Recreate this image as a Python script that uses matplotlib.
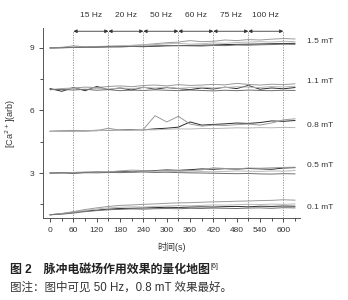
import matplotlib
matplotlib.use('Agg')
import matplotlib.pyplot as plt

plt.rcParams['font.family'] = ['Liberation Sans', 'Noto Sans CJK SC', 'DejaVu Sans']

# time axis (s), sampled every 30 s
t = [0, 30, 60, 90, 120, 150, 180, 210, 240, 270, 300,
     330, 360, 390, 420, 450, 480, 510, 540, 570, 600, 630]

mt_01 = [
    [1.00, 1.05, 1.12, 1.18, 1.22, 1.27, 1.30, 1.31, 1.33, 1.34, 1.36, 1.35, 1.37, 1.38, 1.37, 1.39, 1.40, 1.38, 1.41, 1.40, 1.42, 1.41],
    [1.00, 1.06, 1.15, 1.25, 1.33, 1.40, 1.45, 1.47, 1.50, 1.52, 1.55, 1.57, 1.58, 1.60, 1.62, 1.63, 1.65, 1.66, 1.68, 1.69, 1.72, 1.70],
    [1.00, 1.04, 1.10, 1.20, 1.28, 1.33, 1.36, 1.38, 1.37, 1.40, 1.42, 1.44, 1.43, 1.45, 1.47, 1.46, 1.48, 1.50, 1.49, 1.51, 1.50, 1.52],
    [1.00, 1.03, 1.08, 1.15, 1.20, 1.24, 1.26, 1.28, 1.27, 1.29, 1.30, 1.29, 1.31, 1.30, 1.32, 1.31, 1.30, 1.32, 1.33, 1.31, 1.34, 1.33],
]
mt_05 = [
    [3.00, 3.02, 2.99, 3.03, 3.05, 3.04, 3.08, 3.06, 3.10, 3.12, 3.15, 3.13, 3.16, 3.20, 3.18, 3.21, 3.19, 3.22, 3.20, 3.18, 3.24, 3.26],
    [3.00, 3.01, 3.03, 3.05, 3.04, 3.06, 3.10, 3.14, 3.12, 3.10, 3.13, 3.11, 3.12, 3.15, 3.25, 3.22, 3.20, 3.24, 3.23, 3.25, 3.27, 3.28],
    [3.00, 3.00, 3.02, 3.01, 3.03, 3.02, 3.04, 3.05, 3.07, 3.05, 3.06, 3.08, 3.05, 3.07, 3.06, 3.08, 3.10, 3.09, 3.08, 3.10, 3.09, 3.12],
    [3.00, 3.01, 3.00, 3.02, 3.01, 3.03, 3.02, 3.04, 3.05, 3.03, 3.04, 3.02, 3.01, 3.00, 2.99, 2.98, 2.97, 2.98, 2.96, 2.95, 2.97, 2.96],
]
mt_08 = [
    [5.00, 5.01, 5.03, 5.02, 5.05, 5.04, 5.06, 5.08, 5.07, 5.12, 5.15, 5.20, 5.45, 5.30, 5.33, 5.36, 5.40, 5.38, 5.42, 5.50, 5.48, 5.52],
    [5.00, 5.02, 5.01, 5.04, 5.03, 5.15, 5.05, 5.06, 5.10, 5.75, 5.45, 5.72, 5.35, 5.25, 5.30, 5.28, 5.32, 5.35, 5.30, 5.40, 5.55, 5.60],
    [5.00, 5.00, 5.02, 5.01, 5.03, 5.05, 5.04, 5.06, 5.08, 5.07, 5.10, 5.12, 5.11, 5.14, 5.13, 5.15, 5.17, 5.16, 5.18, 5.17, 5.19, 5.18],
]
mt_11 = [
    [7.05, 6.92, 7.10, 6.95, 7.15, 7.00, 7.08, 6.98, 7.12, 7.02, 7.10, 7.05, 7.00, 7.08, 7.03, 7.12, 7.05, 7.20, 7.02, 7.08, 7.04, 7.10],
    [7.00, 7.05, 7.08, 7.12, 7.10, 7.15, 7.18, 7.14, 7.20, 7.22, 7.18, 7.24, 7.20, 7.22, 7.25, 7.23, 7.30, 7.25, 7.22, 7.26, 7.24, 7.28],
    [7.00, 7.02, 7.05, 7.00, 7.06, 7.03, 7.08, 7.05, 7.10, 7.08, 7.12, 7.06, 7.10, 7.12, 7.08, 7.10, 7.14, 7.12, 7.10, 7.15, 7.13, 7.16],
    [7.00, 7.01, 6.98, 7.02, 6.97, 7.00, 6.95, 6.98, 6.96, 6.99, 6.97, 6.95, 6.98, 6.96, 6.94, 6.97, 6.95, 6.98, 6.96, 6.95, 6.97, 6.96],
]
mt_15 = [
    [9.00, 9.01, 9.02, 9.03, 9.04, 9.05, 9.06, 9.07, 9.06, 9.08, 9.10, 9.11, 9.12, 9.13, 9.14, 9.16, 9.17, 9.18, 9.19, 9.20, 9.21, 9.22],
    [9.00, 9.03, 9.10, 9.05, 9.06, 9.08, 9.10, 9.12, 9.15, 9.20, 9.25, 9.28, 9.35, 9.30, 9.32, 9.38, 9.35, 9.40, 9.38, 9.42, 9.45, 9.43],
    [9.00, 9.02, 9.04, 9.05, 9.07, 9.08, 9.10, 9.12, 9.14, 9.16, 9.20, 9.22, 9.18, 9.20, 9.24, 9.22, 9.26, 9.28, 9.30, 9.28, 9.32, 9.30],
    [9.00, 9.01, 9.03, 9.04, 9.05, 9.06, 9.05, 9.07, 9.08, 9.10, 9.12, 9.11, 9.10, 9.09, 9.12, 9.11, 9.14, 9.13, 9.15, 9.16, 9.18, 9.17],
]

groups = [mt_01, mt_05, mt_08, mt_11, mt_15]
group_labels = ['0.1 mT', '0.5 mT', '0.8 mT', '1.1 mT', '1.5 mT']
label_y = [1.33, 3.35, 5.3, 7.4, 9.3]

boundaries = [60, 150, 240, 330, 420, 510, 600]
freqs = ['15 Hz', '20 Hz', '50 Hz', '60 Hz', '75 Hz', '100 Hz']

line_colors = ['#2a2a2a', '#9a9a9a', '#b8b8b8', '#707070']

fig = plt.figure(figsize=(3.48, 3.0), dpi=100)
ax = fig.add_axes([0.124, 0.273, 0.738, 0.634])

for g in groups:
    for i, y in enumerate(g):
        ax.plot(t, y, color=line_colors[i % len(line_colors)], lw=0.7)

for b in boundaries:
    ax.plot([b, b], [0.84, 9.8], color='#888888', lw=0.6, ls=(0, (1.5, 1.5)))

for i, f in enumerate(freqs):
    x0, x1 = boundaries[i], boundaries[i + 1]
    ax.annotate('', xy=(x0, 9.8), xytext=(x1, 9.8),
                arrowprops=dict(arrowstyle='<|-|>', color='#333333', lw=0.6,
                                mutation_scale=5, shrinkA=0, shrinkB=0),
                annotation_clip=False)
    ax.text((x0 + x1) / 2, 10.55, f, ha='center', va='center', fontsize=6,
            color='#333333', clip_on=False)

for lab, y in zip(group_labels, label_y):
    ax.text(662, y, lab, ha='left', va='center', fontsize=6, color='#333333',
            clip_on=False)

ax.set_xlim(-18, 643)
ax.set_ylim(0.84, 9.96)
ax.set_xticks(range(0, 601, 60))
ax.set_xticks(range(30, 631, 60), minor=True)
ax.set_yticks([3, 6, 9])
ax.set_yticks([1.5, 4.5, 7.5], minor=True)
for s in ['top', 'right']:
    ax.spines[s].set_visible(False)
for s in ['left', 'bottom']:
    ax.spines[s].set_color('#555555')
    ax.spines[s].set_linewidth(0.7)
ax.tick_params(which='both', labelsize=6, colors='#333333', width=0.6)
ax.tick_params(which='major', length=3)
ax.tick_params(which='minor', length=2)

ax.set_xlabel('时间(s)', fontsize=6.5, labelpad=6, color='#333333')
ax.set_ylabel('[Ca$^{2+}$](arb)', fontsize=6.5, labelpad=8, color='#333333')

title = fig.text(0.028, 0.10, '图 2　脉冲电磁场作用效果的量化地图', fontsize=8.6,
                 fontweight='bold', color='#222222', ha='left', va='center')
fig.canvas.draw()
bb = title.get_window_extent()
fig.text((bb.x1 + 1) / fig.bbox.width, (bb.y1 + 1) / fig.bbox.height, '[6]',
         fontsize=5, color='#222222', ha='left', va='top')
fig.text(0.028, 0.04, '图注：图中可见 50 Hz，0.8 mT 效果最好。', fontsize=8.3,
         color='#333333', ha='left', va='center')

fig.savefig('out.png', dpi=100)
